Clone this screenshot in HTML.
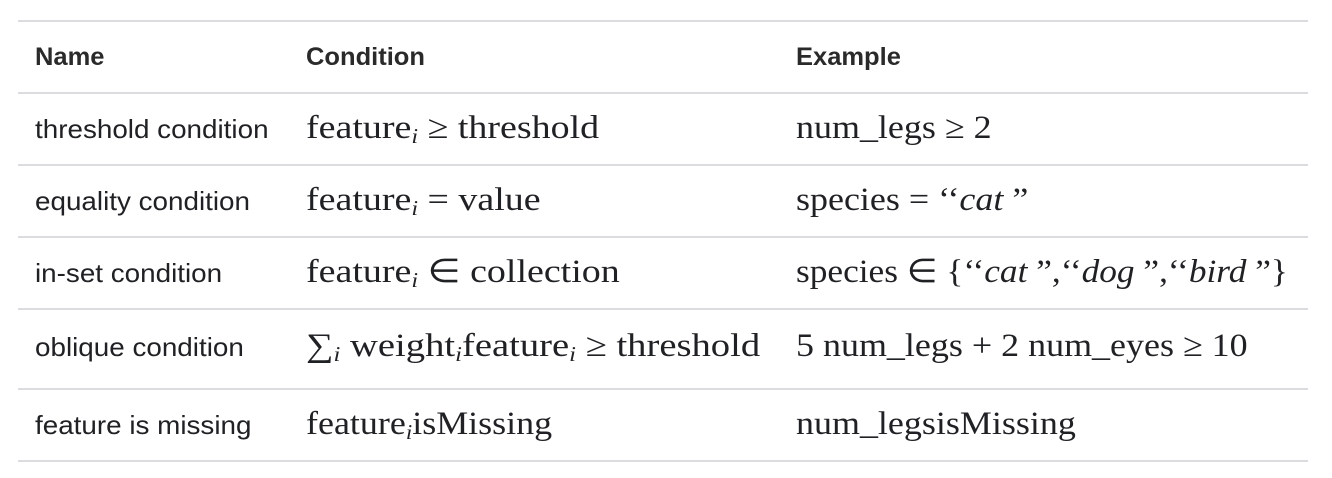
<!DOCTYPE html>
<html><head><meta charset="utf-8"><style>
body{margin:0;width:1332px;height:478px;background:#fff;position:relative;overflow:hidden;color:#202124}
.l{position:absolute;left:18px;width:1290px;height:2px;background:#dadce0}
.t{position:absolute;font-family:"Liberation Sans",sans-serif;font-size:26px;line-height:30px;white-space:nowrap;transform:scaleX(1.07);transform-origin:left}
.h{font-weight:bold;font-size:25px;color:#2a2a2a;transform:scaleX(1.02)}
.m{position:absolute;font-family:"Liberation Serif",serif;font-size:33px;line-height:36px;white-space:nowrap;transform:scaleX(1.09);transform-origin:left}
.c{transform:scaleX(1.15)}
sub{font-style:italic;font-size:21px;vertical-align:-5px;line-height:0}
i{font-style:italic}
</style></head><body>
<div class="l" style="top:20px"></div>
<div class="l" style="top:92px"></div>
<div class="l" style="top:164px"></div>
<div class="l" style="top:236px"></div>
<div class="l" style="top:308px"></div>
<div class="l" style="top:388px"></div>
<div class="l" style="top:460px"></div>

<div class="t h" style="left:35px;top:42px">Name</div>
<div class="t h" style="left:306px;top:42px">Condition</div>
<div class="t h" style="left:796px;top:42px">Example</div>

<div class="t" style="left:35px;top:114px">threshold condition</div>
<div class="m c" style="left:306px;top:110px">feature<sub>i</sub> ≥ threshold</div>
<div class="m" style="left:796px;top:110px">num_legs ≥ 2</div>

<div class="t" style="left:35px;top:186px">equality condition</div>
<div class="m c" style="left:306px;top:182px">feature<sub>i</sub> = value</div>
<div class="m" style="left:796px;top:182px">species = ‘‘<i>cat</i> ”</div>

<div class="t" style="left:35px;top:258px">in-set condition</div>
<div class="m c" style="left:306px;top:254px">feature<sub>i</sub> ∈ collection</div>
<div class="m" style="left:796px;top:254px;transform:scaleX(1.07)">species ∈ {‘‘<i>cat</i> ”,‘‘<i>dog</i> ”,‘‘<i>bird</i> ”}</div>

<div class="t" style="left:35px;top:332px">oblique condition</div>
<div class="m" style="left:306px;top:328px;transform:scaleX(1.17)">∑<sub>i</sub> weight<sub>i</sub>feature<sub>i</sub> ≥ threshold</div>
<div class="m" style="left:796px;top:328px">5 num_legs + 2 num_eyes ≥ 10</div>

<div class="t" style="left:35px;top:410px">feature is missing</div>
<div class="m" style="left:306px;top:406px">feature<sub>i</sub>isMissing</div>
<div class="m" style="left:796px;top:406px">num_legsisMissing</div>
</body></html>
